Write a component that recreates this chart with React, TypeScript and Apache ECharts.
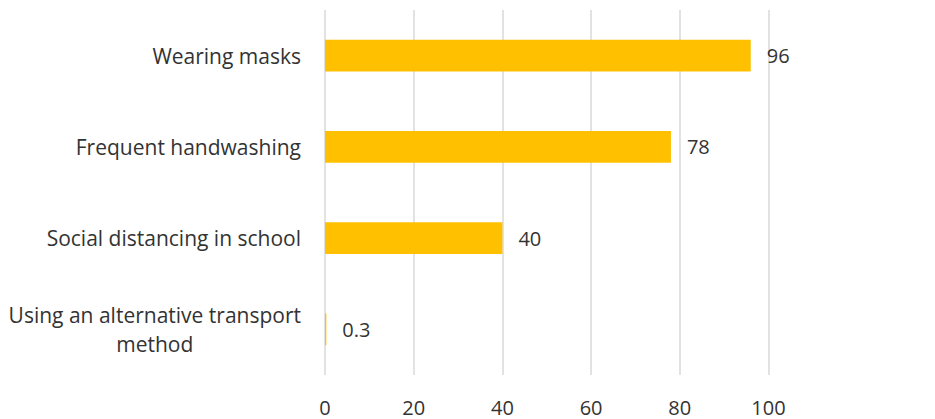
import React, { useEffect, useRef } from "react";
import * as echarts from "echarts";

const categories = [
  "Wearing masks",
  "Frequent handwashing",
  "Social distancing in school",
  "Using an alternative transport\nmethod",
];
const values = [96, 78, 40, 0.3];
const xTicks = [0, 20, 40, 60, 80, 100];

const FONT = "'Open Sans', sans-serif";
const TEXT = "#333333";

export default function App() {
  const ref = useRef<HTMLDivElement>(null);
  useEffect(() => {
    document.body.style.margin = "0";
    const chart = echarts.init(ref.current!, null, { renderer: "svg" });
    chart.setOption({
      animation: false,
      grid: { left: 325, right: 166.5, top: 10, bottom: 44, containLabel: false },
      xAxis: {
        type: "value",
        min: xTicks[0],
        max: xTicks[xTicks.length - 1],
        interval: 20,
        axisLine: { show: false },
        axisTick: { show: false },
        splitLine: { show: true, lineStyle: { color: "#d9d9d9", width: 1.5 } },
        axisLabel: {
          margin: 22,
          color: TEXT,
          fontFamily: FONT,
          fontSize: 20,
        },
      },
      yAxis: {
        type: "category",
        inverse: true,
        data: categories,
        axisLine: { show: false },
        axisTick: { show: false },
        axisLabel: {
          margin: 24,
          formatter: (v: string) =>
            v
              .split("\n")
              .map((l) => `{c|${l}}`)
              .join("\n"),
          rich: {
            c: {
              align: "center",
              color: TEXT,
              fontFamily: FONT,
              fontSize: 21,
              lineHeight: 29,
            },
          },
        },
      },
      series: [
        {
          type: "bar",
          data: values,
          barWidth: "35%",
          itemStyle: { color: "#FFC000" },
          label: {
            show: true,
            position: "right",
            distance: 16,
            color: TEXT,
            fontFamily: FONT,
            fontSize: 20,
          },
        },
      ],
    });
    return () => chart.dispose();
  }, []);
  return <div ref={ref} style={{ width: 935, height: 419 }} />;
}
